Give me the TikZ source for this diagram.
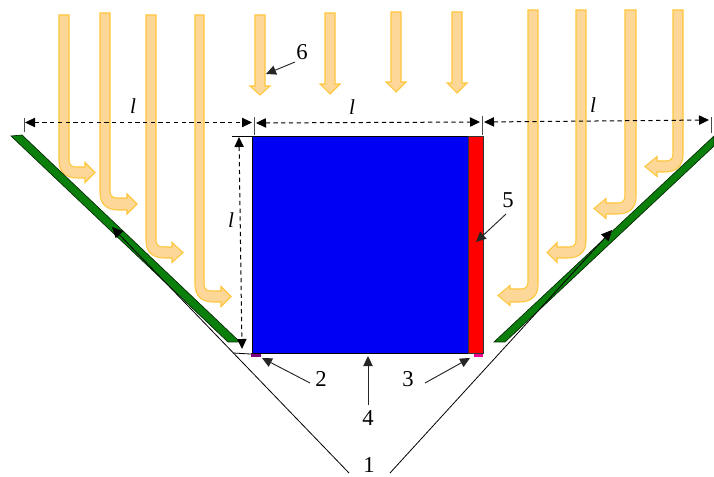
\documentclass[tikz,border=0pt]{standalone}
\usepackage{fontspec}
\setmainfont{Liberation Serif}
\usetikzlibrary{arrows.meta}
\definecolor{sunfill}{HTML}{FDD797}
\definecolor{sunedge}{HTML}{FFC73C}
\definecolor{refl}{HTML}{0B7F0B}
\definecolor{absorb}{HTML}{0000F5}
\definecolor{glazing}{HTML}{FF0000}
\tikzset{
  sun/.style={fill=sunfill,draw=sunedge,line width=0.8pt,line join=miter},
  refpanel/.style={fill=refl,draw=black!70!refl,line width=0.5pt},
  numlabel/.style={font=\fontsize{17}{19}\selectfont,inner sep=0pt},
  lenlabel/.style={font=\fontsize{16}{18}\selectfont\itshape,inner sep=0pt},
  tick/.style={draw=black!70,line width=0.7pt},
  dimline/.style={draw=black,line width=0.75pt,dash pattern=on 3.2pt off 2.6pt,{Triangle[length=7.5pt,width=7pt]}-{Triangle[length=7.5pt,width=7pt]}},
  callout/.style={draw=black!85,line width=0.7pt,-{Triangle[length=7.5pt,width=7pt]}},
  thin1/.style={draw=black,line width=0.6pt,-{Triangle[length=8pt,width=7.5pt]}},
}
% outer x, inner x, top, horizontal top y, horizontal bottom y, head base x, tip x, sign
\newcommand{\bentarrow}[8]{%
  \path[sun] ({#1},{#3}) -- ({#1},{#5-17})
    .. controls ({#1},{#5-6}) and ({#1+#8*7},{#5}) .. ({#1+#8*18},{#5})
    -- ({#6},{#5}) -- ({#6},{(#4+#5)/2+10}) -- ({#7},{(#4+#5)/2}) -- ({#6},{(#4+#5)/2-10})
    -- ({#6},{#4}) -- ({#2+#8*7},{#4})
    .. controls ({#2+#8*2.5},{#4}) and ({#2},{#4-2.5}) .. ({#2},{#4-7})
    -- ({#2},{#3}) -- cycle;}
% centre x, top, head base y, tip y
\newcommand{\downarrowshape}[4]{%
  \path[sun] ({#1-5},{#2}) -- ({#1-5},{#3}) -- ({#1-10},{#3}) -- ({#1},{#4}) -- ({#1+10},{#3}) -- ({#1+5},{#3}) -- ({#1+5},{#2}) -- cycle;}
\begin{document}
\begin{tikzpicture}[x=0.75pt,y=-0.75pt]
\useasboundingbox (0,0) rectangle (714,477);
% sun rays
\bentarrow{59}{69}{15}{167}{178}{85}{95}{1}
\bentarrow{100}{110}{13}{198}{210}{127}{137}{1}
\bentarrow{146}{156}{15}{247}{258}{172}{183}{1}
\bentarrow{195}{204}{15}{291}{302}{221}{231}{1}
\downarrowshape{260}{15}{86}{95}
\downarrowshape{330}{13}{84}{94}
\downarrowshape{396}{12}{82}{92}
\downarrowshape{457}{12}{83}{93}
\bentarrow{538}{528}{10}{289}{302}{510}{498}{-1}
\bentarrow{586}{576}{10}{247}{258}{557}{547}{-1}
\bentarrow{636}{625}{10}{203}{214}{606}{594}{-1}
\bentarrow{683}{673}{10}{161}{172}{657}{645}{-1}
% reflectors
\path[refpanel] (11,136) -- (22,135) -- (240,342) -- (228,342) -- cycle;
\path[refpanel] (494,342) -- (505,342) -- (714,146) -- (714,136) -- cycle;
% receiver
\fill[violet] (251,353) rectangle (261,357);
\fill[magenta] (474,353) rectangle (483,357);
\node[draw=black,line width=0.8pt,fill=absorb,minimum width=162pt,minimum height=162.75pt,inner sep=0pt,anchor=north west] (blue) at (251.5,136) {};
\node[draw=black!80,line width=0.8pt,fill=glazing,minimum width=11.25pt,minimum height=162.75pt,inner sep=0pt,anchor=north west] (red) at (468,136) {};
% ticks
\coordinate (t1a) at (24,118); \coordinate (t1b) at (24,132);
\coordinate (t2a) at (254,117); \coordinate (t2b) at (254,135);
\coordinate (t3a) at (482,116); \coordinate (t3b) at (482,135);
\coordinate (t4a) at (711,117); \coordinate (t4b) at (711,133);
\coordinate (t5a) at (232,136); \coordinate (t6a) at (233,353);
\draw[tick] (t1a) -- (t1b);
\draw[tick] (t2a) -- (t2b);
\draw[tick] (t3a) -- (t3b);
\draw[tick] (t4a) -- (t4b);
\draw[black,line width=0.6pt] (t5a) -- (blue.north west);
\draw[black,line width=0.6pt] (t6a) -- (blue.south west);
% dimensions
\coordinate (d1a) at (25,122.5); \coordinate (d1b) at (252,122.5);
\coordinate (d2a) at (256,123); \coordinate (d2b) at (480,122);
\coordinate (d3a) at (484,122); \coordinate (d3b) at (709,120);
\coordinate (d4a) at (239,137); \coordinate (d4b) at (242,349);
\draw[dimline] (d1a) -- (d1b);
\draw[dimline] (d2a) -- (d2b);
\draw[dimline] (d3a) -- (d3b);
\draw[dimline] (d4a) -- (d4b);
\node[lenlabel] (l1) at (133,106) {l};
\node[lenlabel] (l2) at (352,107) {l};
\node[lenlabel] (l3) at (593,105) {l};
\node[lenlabel] (l4) at (231,220) {l};
% numbers
\node[numlabel] (n1) at (369,465.5) {1};
\node[numlabel] (n2) at (321,379) {2};
\node[numlabel] (n3) at (408,379) {3};
\node[numlabel] (n4) at (368,418) {4};
\node[numlabel] (n5) at (508,200) {5};
\node[numlabel] (n6) at (302,52) {6};
% callouts
\coordinate (a1l) at (349,473); \coordinate (e1l) at (112,227);
\coordinate (a1r) at (390,473); \coordinate (e1r) at (612,230);
\coordinate (a2) at (310,383); \coordinate (e2) at (262,358);
\coordinate (a3) at (425,383); \coordinate (e3) at (470,358);
\coordinate (a4) at (368,405); \coordinate (e4) at (368,356);
\coordinate (a5) at (506,214); \coordinate (e5) at (476,242);
\coordinate (a6) at (295,62); \coordinate (e6) at (266,74);
\draw[thin1] (a1l) -- (e1l);
\draw[thin1] (a1r) -- (e1r);
\draw[callout] (a2) -- (e2);
\draw[callout] (a3) -- (e3);
\draw[callout] (a4) -- (e4);
\draw[callout] (a5) -- (e5);
\draw[callout] (a6) -- (e6);
\end{tikzpicture}
\end{document}
